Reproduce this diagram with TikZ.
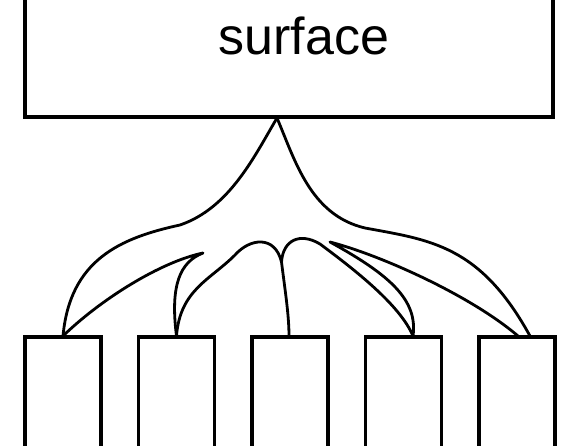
\documentclass[tikz,border=0pt]{standalone}
\usepackage{fontspec}
\setmainfont{Liberation Sans}
\begin{document}
\begin{tikzpicture}[x=1pt,y=-1pt,
  boxline/.style={draw=black,line width=3.4pt,inner sep=0pt,outer sep=0pt},
  fanline/.style={draw=black,line width=2.8pt,line join=round,line cap=round}]
\clip (0,0) rectangle (562,446);
\fill[white] (0,0) rectangle (562,446);
% top surface box (open above the frame)
\node[boxline,minimum width=528pt,minimum height=150pt,anchor=south] (top) at (289,117) {};
\node[anchor=base,font=\fontsize{52}{60}\selectfont] (lbl) at (304,55) {surface};
% bottom boxes (open below the frame)
\foreach \i/\x in {1/63,2/176.5,3/290,4/403.5,5/517}{
  \node[boxline,minimum width=76pt,minimum height=150pt,anchor=north] (b\i) at (\x,337) {};
}
% attachment points
\coordinate (apex) at (277,118);
\coordinate (a1) at (63,336);
\coordinate (a2) at (176.5,336);
\coordinate (a3) at (289,336);
\coordinate (a4) at (413,336);
\coordinate (a5i) at (518,336);
\coordinate (a5o) at (530,336);
\coordinate (tipL) at (203,253);
\coordinate (humpL) at (235,255);
\coordinate (cusp) at (281.5,262);
\coordinate (humpR) at (320,244);
\coordinate (tipR) at (330,242);
\coordinate (oL) at (180,225);
\coordinate (oR) at (365,228);
% outer envelope
\path[fanline] (a1) .. controls (70,260) and (120,238) .. (oL)
  .. controls (230,208) and (255,155) .. (apex);
\path[fanline] (apex) .. controls (295,160) and (310,215) .. (oR)
  .. controls (430,240) and (480,245) .. (a5o);
% inner boundary
\path[fanline] (a1) .. controls (100,300) and (160,262) .. (tipL)
  .. controls (180,262) and (170,285) .. (a2);
\path[fanline] (a2) .. controls (180,290) and (210,280) .. (humpL)
  .. controls (250,238) and (275,235) .. (cusp)
  .. controls (285,290) and (289,315) .. (a3);
\path[fanline] (cusp) .. controls (283,240) and (300,232) .. (humpR)
  .. controls (355,270) and (400,305) .. (a4);
\path[fanline] (a4) .. controls (418,300) and (390,275) .. (tipR)
  .. controls (380,255) and (470,295) .. (a5i);
\end{tikzpicture}
\end{document}
